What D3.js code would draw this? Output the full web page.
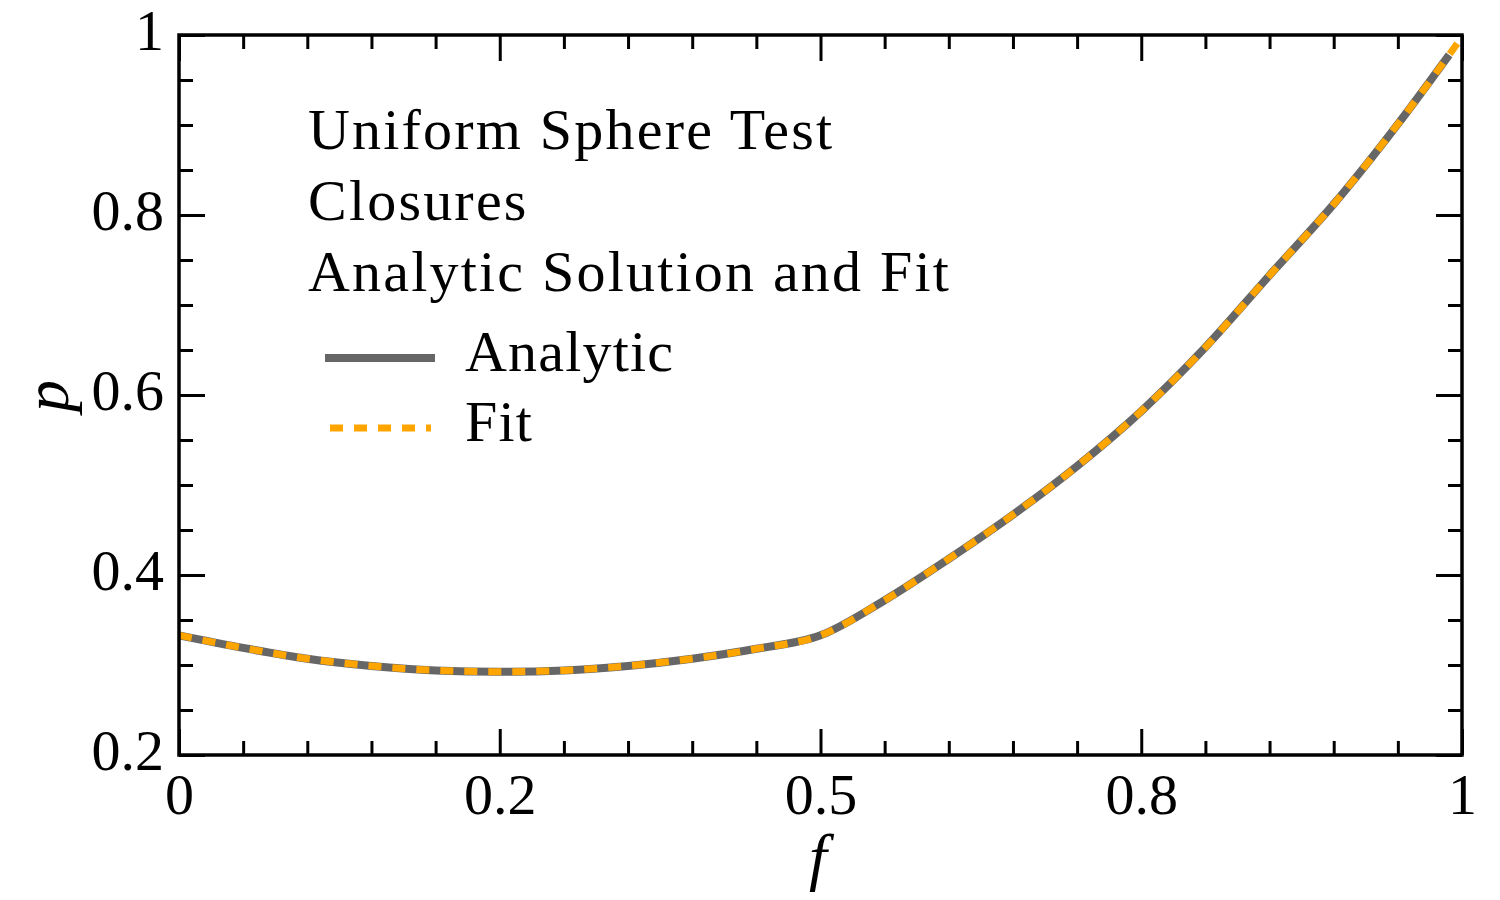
<!DOCTYPE html>
<html>
  <head>
    <script src="https://d3js.org/d3.v7.min.js"></script>
    <title>Uniform Sphere Test</title>
    <style>
      body { margin: 0; background: #fff; }
      text { font-family: "Palatino Linotype", Palatino, "Liberation Serif", serif; fill: #000; }
    </style>
  </head>
  <body>
  <svg width="1500" height="900"></svg>
  <script>

      // flux factor f and Eddington factor p
      var fValues   = [0, 0.05, 0.1, 0.15, 0.2, 0.25, 0.3, 0.35, 0.4, 0.45, 0.5,
                       0.55, 0.6, 0.65, 0.7, 0.75, 0.8, 0.85, 0.9, 0.95, 0.99, 1.0];
      var analyticP = [0.333, 0.319, 0.307, 0.299, 0.294, 0.2925, 0.294, 0.299, 0.307, 0.318, 0.333,
                       0.372, 0.418, 0.467, 0.521, 0.582, 0.653, 0.733, 0.812, 0.901, 0.978, null];
      var fitP      = [0.333, 0.319, 0.307, 0.299, 0.294, 0.2925, 0.294, 0.299, 0.307, 0.318, 0.333,
                       0.372, 0.418, 0.467, 0.521, 0.582, 0.653, 0.733, 0.812, 0.901, 0.978, 0.998];

      var xMajor = [0, 0.25, 0.5, 0.75, 1];
      var xLabels = ["0", "0.2", "0.5", "0.8", "1"];
      var yMajor = [0.2, 0.4, 0.6, 0.8, 1];
      var yLabels = ["0.2", "0.4", "0.6", "0.8", "1"];

      var titleLines = ["Uniform Sphere Test", "Closures", "Analytic Solution and Fit"];
      var seriesNames = ["Analytic", "Fit"];

      var svg = d3.select('svg');
      var margin = { left: 179, right: 38, top: 35, bottom: 145 };
      var innerWidth = 1500 - margin.left - margin.right;
      var innerHeight = 900 - margin.top - margin.bottom;

      var xScale = d3.scaleLinear().domain([0, 1]).range([0, innerWidth]);
      var yScale = d3.scaleLinear().domain([0.2, 1]).range([innerHeight, 0]);

      var g = svg.append("g")
        .attr("transform", `translate (${margin.left}, ${margin.top})`);

      var xMinor = d3.range(0, 1.0001, 0.05).filter(v => xMajor.indexOf(+v.toFixed(2)) < 0);
      var yMinor = d3.range(0.2, 1.0001, 0.05).filter(v => yMajor.indexOf(+v.toFixed(2)) < 0);

      // inward ticks on all four sides
      function ticks(axis, values, size, transform) {
        var a = g.append("g")
          .attr("class", "ticks")
          .attr("transform", transform)
          .call(axis.tickValues(values).tickSizeInner(-size).tickSizeOuter(0));
        a.select(".domain").remove();
        a.selectAll("text").remove();
        a.selectAll("line").attr("stroke", "#000").attr("stroke-width", 3);
      }
      ticks(d3.axisBottom(xScale), xMajor, 26, `translate(0, ${innerHeight})`);
      ticks(d3.axisBottom(xScale), xMinor, 14, `translate(0, ${innerHeight})`);
      ticks(d3.axisTop(xScale), xMajor, 26, "translate(0,0)");
      ticks(d3.axisTop(xScale), xMinor, 14, "translate(0,0)");
      ticks(d3.axisLeft(yScale), yMajor, 26, "translate(0,0)");
      ticks(d3.axisLeft(yScale), yMinor, 14, "translate(0,0)");
      ticks(d3.axisRight(yScale), yMajor, 26, `translate(${innerWidth},0)`);
      ticks(d3.axisRight(yScale), yMinor, 14, `translate(${innerWidth},0)`);

      // tick labels
      var xAxis = g.append("g")
        .attr("transform", `translate(0, ${innerHeight})`)
        .call(d3.axisBottom(xScale).tickValues(xMajor).tickSize(0).tickPadding(0)
          .tickFormat((d, i) => xLabels[i]));
      xAxis.select(".domain").remove();
      xAxis.selectAll("text")
        .attr("y", 59).attr("dy", null)
        .style("font-size", "58px")
        .style("font-family", null);

      var yAxis = g.append("g")
        .call(d3.axisLeft(yScale).tickValues(yMajor).tickSize(0).tickPadding(0)
          .tickFormat((d, i) => yLabels[i]));
      yAxis.select(".domain").remove();
      yAxis.selectAll("text")
        .attr("x", -15).attr("dy", "14")
        .style("font-size", "58px")
        .style("font-family", null);

      var line = d3.line()
        .defined(d => d.p !== null)
        .x(d => xScale(d.f))
        .y(d => yScale(d.p))
        .curve(d3.curveMonotoneX);

      var analytic = fValues.map((f, i) => ({ f: f, p: analyticP[i] }));
      var fit = fValues.map((f, i) => ({ f: f, p: fitP[i] }));

      g.append("path")
        .datum(analytic)
        .attr("fill", "none")
        .attr("stroke", "#666666")
        .attr("stroke-width", 8)
        .attr("d", line);

      g.append("path")
        .datum(fit)
        .attr("fill", "none")
        .attr("stroke", "#FFA500")
        .attr("stroke-width", 7)
        .attr("stroke-dasharray", "13,11")
        .attr("d", line);

      // frame
      g.append("rect")
        .attr("width", innerWidth)
        .attr("height", innerHeight)
        .attr("fill", "none")
        .attr("stroke", "#000")
        .attr("stroke-width", 3.5);

      // title block
      svg.selectAll(".title")
        .data(titleLines)
        .enter().append("text")
        .attr("class", "title")
        .attr("x", 308)
        .attr("y", (d, i) => 149 + i * 71)
        .style("font-size", "58px")
        .style("letter-spacing", "2.2px")
        .text(d => d);

      // legend
      var legendY = [358, 428];
      svg.append("line")
        .attr("x1", 325).attr("x2", 435)
        .attr("y1", legendY[0]).attr("y2", legendY[0])
        .attr("stroke", "#666666").attr("stroke-width", 8);
      svg.append("line")
        .attr("x1", 330).attr("x2", 431)
        .attr("y1", legendY[1]).attr("y2", legendY[1])
        .attr("stroke", "#FFA500").attr("stroke-width", 7)
        .attr("stroke-dasharray", "13,11");
      svg.selectAll(".legend-label")
        .data(seriesNames)
        .enter().append("text")
        .attr("class", "legend-label")
        .attr("x", 465)
        .attr("y", (d, i) => legendY[i] + 13)
        .style("font-size", "58px")
        .style("letter-spacing", "1.2px")
        .text(d => d);

      // axis titles
      svg.append("text")
        .attr("x", 818)
        .attr("y", 878)
        .style("text-anchor", "middle")
        .style("font-size", "64px")
        .style("font-style", "italic")
        .text("f");

      svg.append("text")
        .attr("transform", "translate(68, 396) rotate(-90)")
        .style("text-anchor", "middle")
        .style("font-size", "64px")
        .style("font-style", "italic")
        .text("p");

  </script>
  </body>
</html>
